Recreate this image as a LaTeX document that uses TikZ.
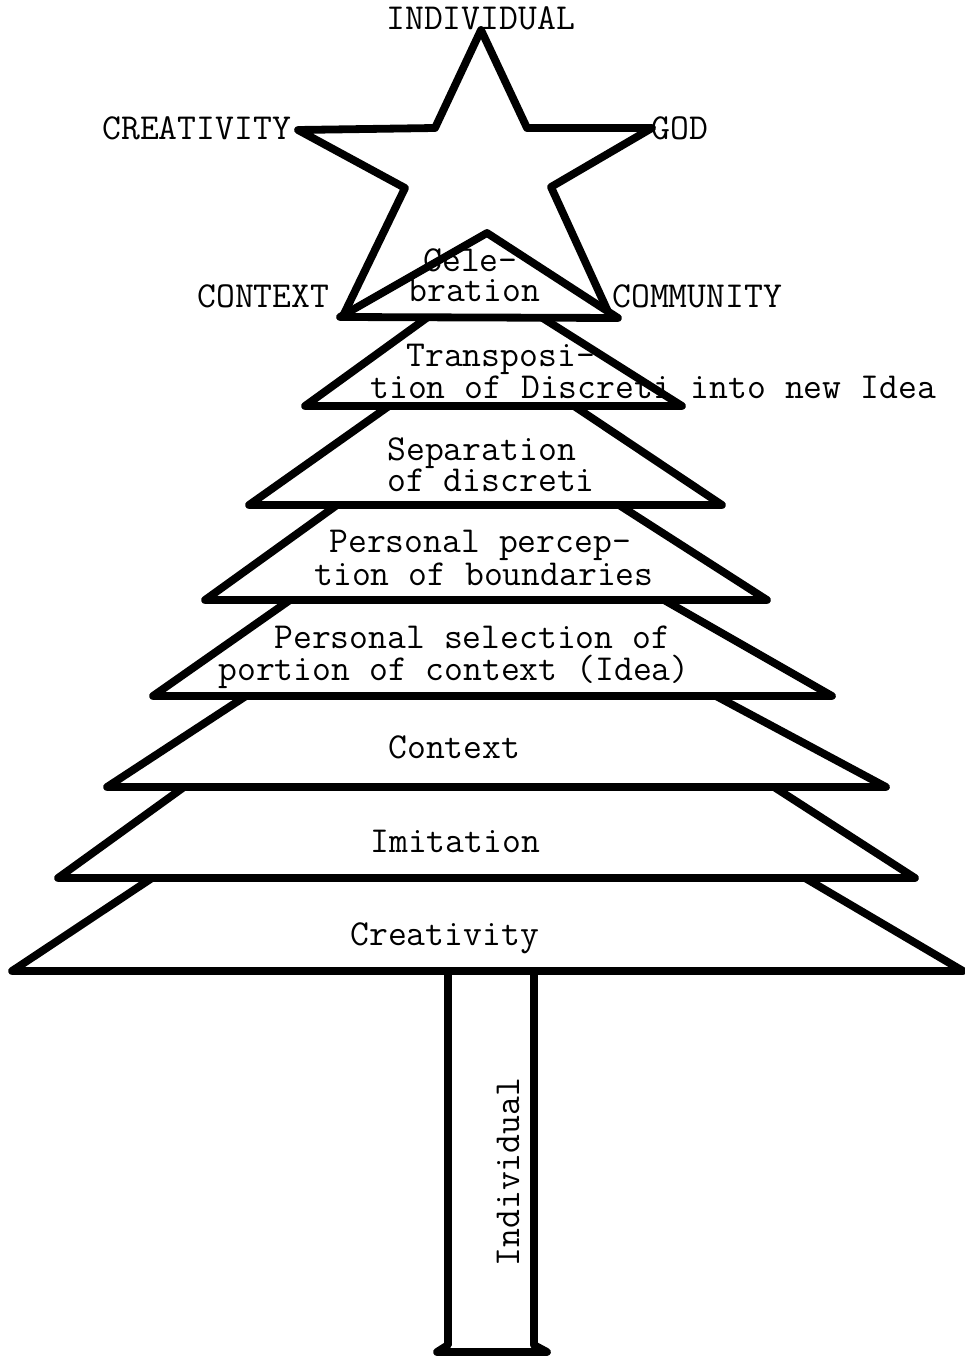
\documentclass[tikz,border=0pt]{standalone}
\usepackage{fontspec}
\usepackage{tikz}

\begin{document}
\begin{tikzpicture}[x=0.5pt,y=-0.5pt,font=\ttfamily\fontsize{18.3}{15.5}\selectfont,
  layer/.style={draw,fill=white,line width=3.9pt,line join=round},
  lbl/.style={anchor=base west,inner sep=0pt}]
  \useasboundingbox (0,0) rectangle (964,1358);
  % trunk
  \draw[layer] (448,968) -- (448,1345) -- (437,1352) -- (547,1352) -- (534,1345) -- (534,968);
  \node[rotate=90] (trunk) at (508,1172) {Individual};
  % tiers, lowest first so each one hides the top of the one below
  \foreach \ty/\tl/\tr/\by/\bl/\br in {878/152/805/971/12/963,787/184/774/878/58/915,696/246/716/787/107/886,
    600/290/664/696/153/832,505/337/619/600/205/767,406/389/574/505/249/722,317/428/541/406/305/682}{
    \draw[layer] (\tl,\ty) -- (\bl,\by) -- (\br,\by) -- (\tr,\ty);
  }
  % star and top tier
  \draw[layer] (481,30) -- (527,128) -- (652,128) -- (551,187) -- (610,316) -- (487,236) -- (343,316)
    -- (405,188) -- (298,130) -- (435,128) -- cycle;
  \draw[layer] (340,317) -- (487,233) -- (618,318) -- cycle;
  \node[lbl] (sInd) at (386,30) {INDIVIDUAL};
  \node[lbl] (sCre) at (102,140) {CREATIVITY};
  \node[lbl] (sGod) at (651,140) {GOD};
  \node[lbl] (sCtx) at (197,307) {CONTEXT};
  \node[lbl] (sCom) at (612,307) {COMMUNITY};
  % tier texts
  \foreach \n/\x/\y/\t in {cel1/423/272/{Cele-},cel2/408/302/{bration},
    tra1/406/366/{Transposi-},tra2/370/398/{tion of Discreti into new Idea},
    sep1/387/460/{Separation},sep2/387/491/{of discreti},
    per1/329/552/{Personal percep-},per2/314/585/{tion of boundaries},
    sel1/274/648/{Personal selection of},sel2/218/680/{portion of context (Idea)},
    ctx/388/758/{Context},imi/370/852/{Imitation},cre/350/945/{Creativity}}{
    \node[lbl] (\n) at (\x,\y) {\t};
  }
\end{tikzpicture}
\end{document}
